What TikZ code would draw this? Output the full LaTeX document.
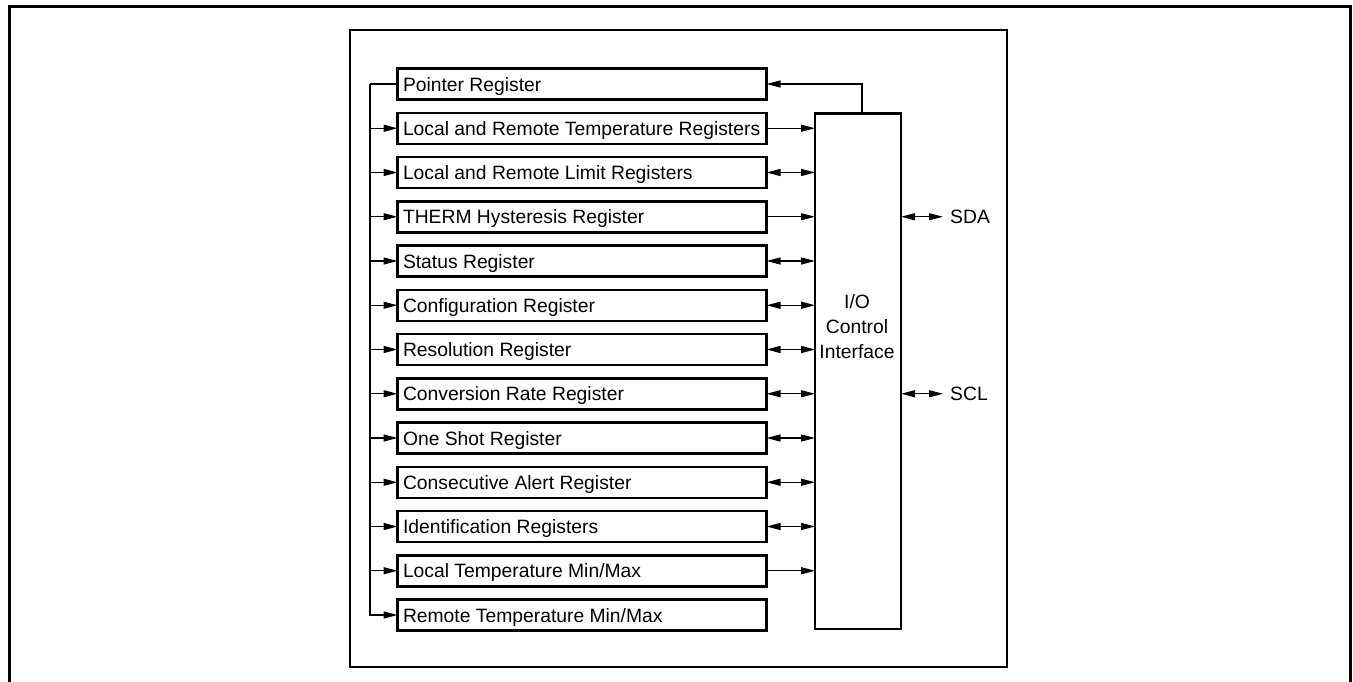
\documentclass[tikz,border=0pt]{standalone}
\usepackage{fontspec}
\setmainfont{Liberation Sans}
\usetikzlibrary{arrows.meta,positioning}

\begin{document}
\begin{tikzpicture}[x=1pt, y=1pt,
    reg/.style={rectangle, draw, line width=2.5pt, minimum width=369pt, minimum height=31pt, inner xsep=5.5pt, text height=14pt, text depth=0pt, outer sep=0pt, font=\fontsize{19.3}{22}\selectfont,
        execute at begin node={\hbox to 358pt\bgroup}, execute at end node={\hss\egroup}},
    iobox/.style={rectangle, draw, line width=2.5pt, minimum width=86pt, minimum height=515.7pt, outer sep=0pt},
    lbl/.style={align=center, inner sep=4pt, font=\fontsize{19.3}{25}\selectfont},
    wire/.style={line width=1.3pt},
    arrow/.style={-{Triangle[length=14pt,width=7pt]}, line width=1.3pt},
    biarrow/.style={{Triangle[length=14pt,width=7pt]}-{Triangle[length=14pt,width=7pt]}, line width=1.3pt}
]
    \useasboundingbox (0,0) rectangle (1353,-681);
    % Frames
    \draw[line width=3pt] (9.5,-690) -- (9.5,-6.5) -- (1350.5,-6.5) -- (1350.5,-690);
    \draw[line width=2.5pt] (350,-30) rectangle (1007,-667);

    % Registers
    \node[reg] (pointer) at (582,-84) {Pointer Register};
    \node[reg] (temp) at (582,-128.25) {Local and Remote Temperature Registers};
    \node[reg] (limit) at (582,-172.5) {Local and Remote Limit Registers};
    \node[reg] (therm) at (582,-216.75) {THERM Hysteresis Register};
    \node[reg] (status) at (582,-261) {Status Register};
    \node[reg] (config) at (582,-305.25) {Configuration Register};
    \node[reg] (resol) at (582,-349.5) {Resolution Register};
    \node[reg] (convrate) at (582,-393.75) {Conversion Rate Register};
    \node[reg] (oneshot) at (582,-438) {One Shot Register};
    \node[reg] (consec) at (582,-482.25) {Consecutive Alert Register};
    \node[reg] (ident) at (582,-526.5) {Identification Registers};
    \node[reg] (localmm) at (582,-570.75) {Local Temperature Min/Max};
    \node[reg] (remotemm) at (582,-615) {Remote Temperature Min/Max};

    % I/O control
    \node[iobox] (ioc) at (858,-371.2) {};
    \node[lbl] (ioctext) at (857,-327) {I/O\\Control\\Interface};
    \node[lbl, anchor=west, inner xsep=7pt] (sda) at (943,-216.75) {SDA};
    \node[lbl, anchor=west, inner xsep=7pt] (scl) at (943,-393.75) {SCL};

    % Pointer bus
    \coordinate (bus) at (370,-84);
    \draw[wire] (pointer.west) -- (bus);
    \draw[arrow] (bus) |- (remotemm.west);
    \draw[arrow] (bus |- temp.west) -- (temp.west);
    \draw[arrow] (bus |- limit.west) -- (limit.west);
    \draw[arrow] (bus |- therm.west) -- (therm.west);
    \draw[arrow] (bus |- status.west) -- (status.west);
    \draw[arrow] (bus |- config.west) -- (config.west);
    \draw[arrow] (bus |- resol.west) -- (resol.west);
    \draw[arrow] (bus |- convrate.west) -- (convrate.west);
    \draw[arrow] (bus |- oneshot.west) -- (oneshot.west);
    \draw[arrow] (bus |- consec.west) -- (consec.west);
    \draw[arrow] (bus |- ident.west) -- (ident.west);
    \draw[arrow] (bus |- localmm.west) -- (localmm.west);

    % Data paths
    \draw[arrow] ([xshift=4pt]ioc.north) |- (pointer.east);
    \draw[arrow] (temp.east) -- (temp.east -| ioc.west);
    \draw[biarrow] (limit.east) -- (limit.east -| ioc.west);
    \draw[arrow] (therm.east) -- (therm.east -| ioc.west);
    \draw[biarrow] (status.east) -- (status.east -| ioc.west);
    \draw[biarrow] (config.east) -- (config.east -| ioc.west);
    \draw[biarrow] (resol.east) -- (resol.east -| ioc.west);
    \draw[biarrow] (convrate.east) -- (convrate.east -| ioc.west);
    \draw[biarrow] (oneshot.east) -- (oneshot.east -| ioc.west);
    \draw[biarrow] (consec.east) -- (consec.east -| ioc.west);
    \draw[biarrow] (ident.east) -- (ident.east -| ioc.west);
    \draw[arrow] (localmm.east) -- (localmm.east -| ioc.west);

    % Serial bus
    \draw[biarrow] (sda.west -| ioc.east) -- (sda.west);
    \draw[biarrow] (scl.west -| ioc.east) -- (scl.west);
\end{tikzpicture}
\end{document}
